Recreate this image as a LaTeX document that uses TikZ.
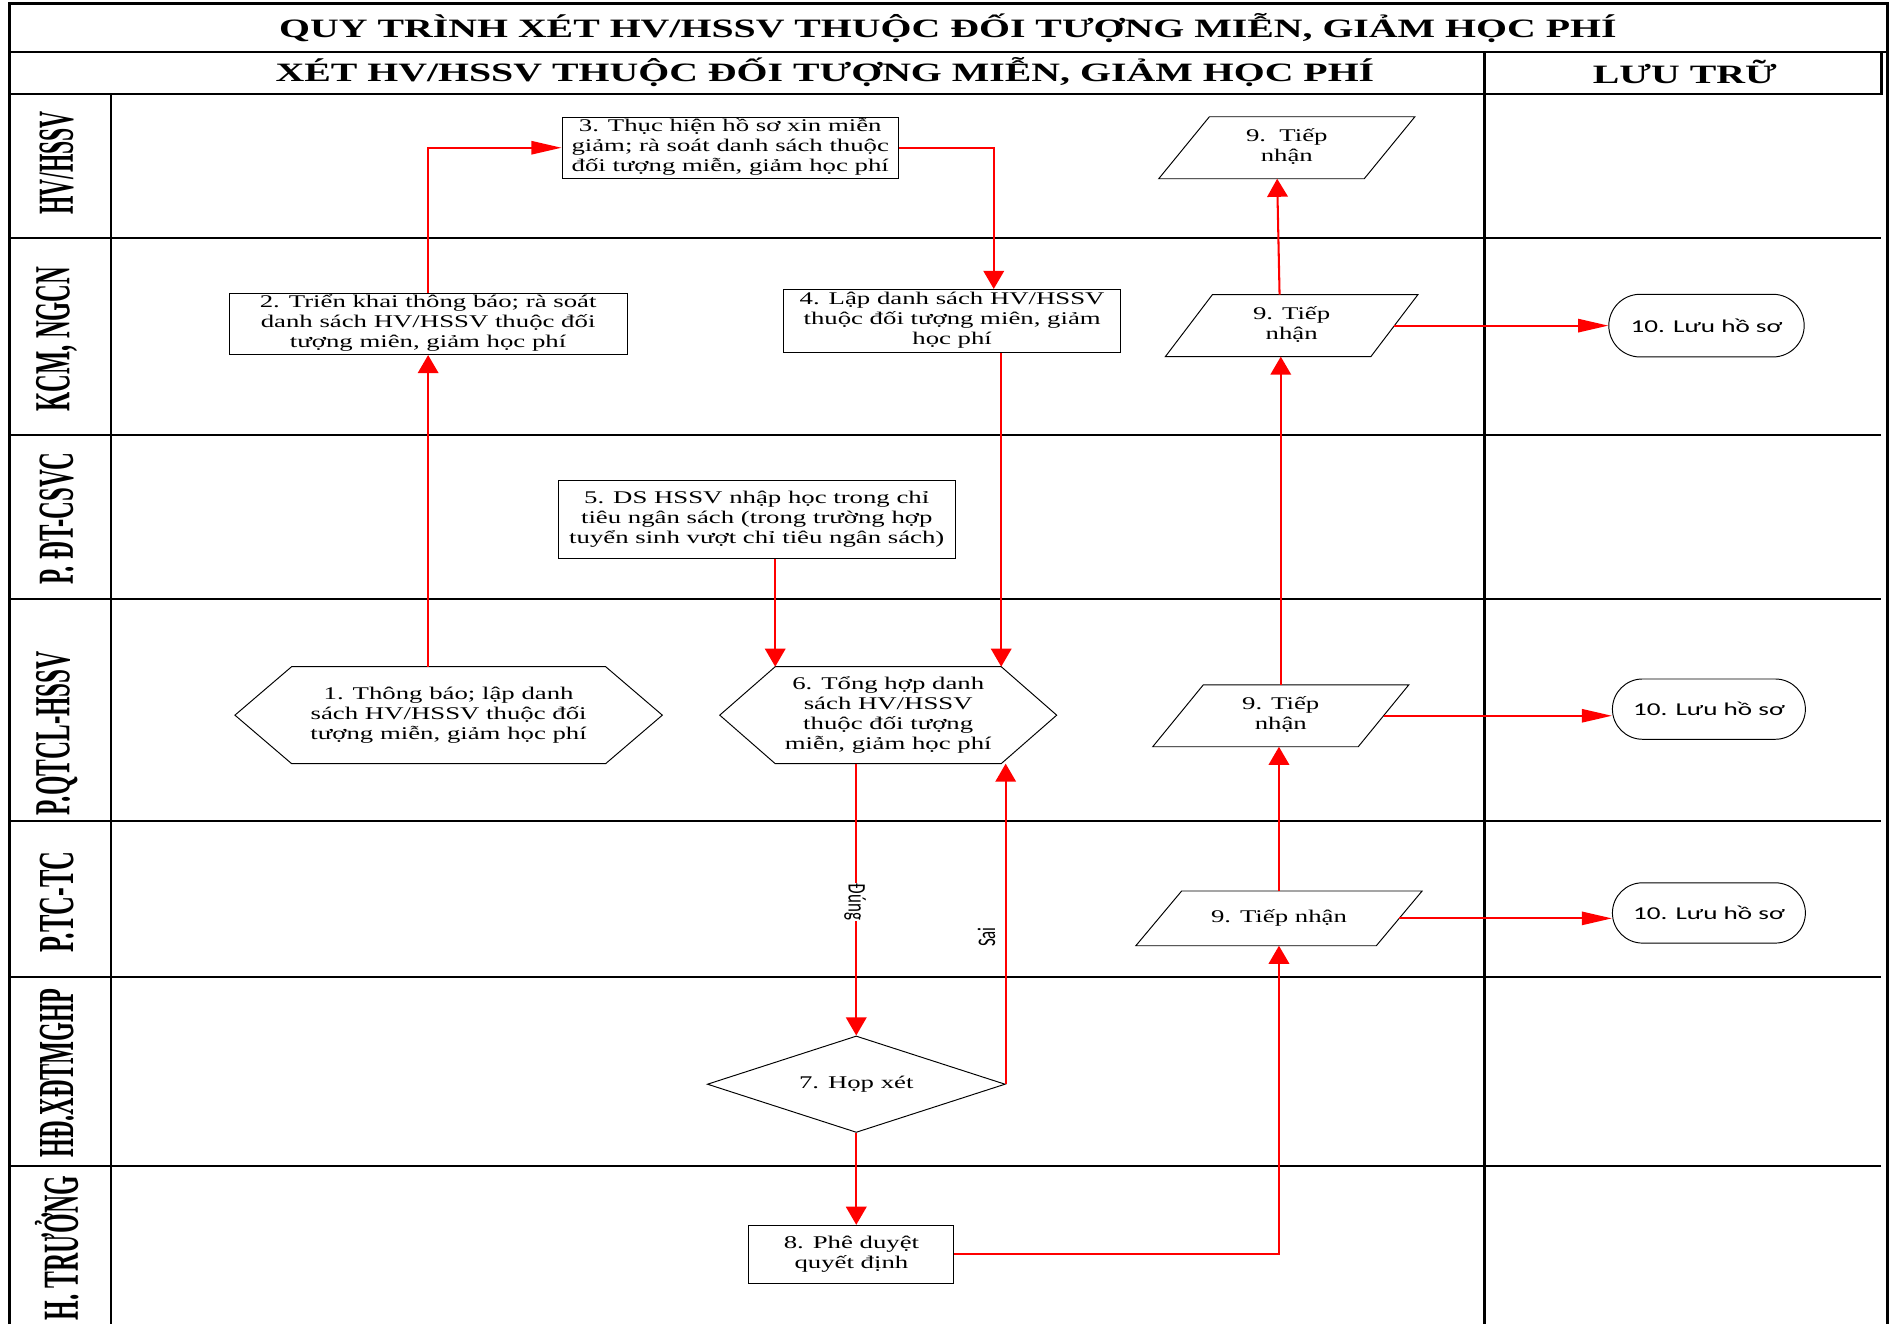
\documentclass[tikz,border=0pt]{standalone}
\usepackage{fontspec}
\setmainfont{Liberation Serif}
\newfontfamily\calib{Carlito}
\usetikzlibrary{arrows.meta,shapes.misc,shapes.geometric}
\newcommand\hs[1]{\scalebox{1.5}[1]{#1}}
\newcommand\ml[1]{\scalebox{1.5}[1]{\begin{tabular}{@{}c@{}}#1\end{tabular}}}
\newcommand\bodyfs{\fontsize{14.8}{16.6}\selectfont}
\newcommand\headfs{\fontsize{22}{24}\selectfont\bfseries}
\newcommand\lanetxt[2]{\resizebox{#1pt}{1.9\height}{#2}}
\newcommand\drawhex[2]{\draw[shapeline] ([xshift=#2]#1.north west) -- ([xshift=-#2]#1.north east) -- (#1.east) -- ([xshift=-#2]#1.south east) -- ([xshift=#2]#1.south west) -- (#1.west) -- cycle;}
\newcommand\drawpara[2]{\draw[shapeline] ([xshift=#2]#1.north west) -- (#1.north east) -- ([xshift=-#2]#1.south east) -- (#1.south west) -- cycle;}
\tikzset{
  frame/.style={line width=2pt},
  laneline/.style={line width=1.6pt},
  shapeline/.style={line width=0.8pt},
  box/.style={draw, line width=0.8pt, inner sep=0pt, font=\bodyfs},
  ghost/.style={inner sep=0pt, font=\bodyfs},
  stadium/.style={rounded rectangle, draw, line width=0.8pt, inner sep=0pt, font=\calib\fontsize{15}{17}\selectfont},
  headtext/.style={inner sep=0pt, font=\headfs},
  lanelabel/.style={inner sep=0pt, rotate=90, font=\headfs},
  flowlabel/.style={inner sep=1pt, font=\calib\fontsize{14}{16}\selectfont},
  flow/.style={draw=red, line width=1.7pt},
  harrow/.style={flow, -{Triangle[length=25pt,width=11pt]}},
  varrow/.style={flow, -{Triangle[length=15pt,width=17pt]}},
}
\begin{document}
\begin{tikzpicture}[x=1pt,y=-1pt]
\useasboundingbox (0,0) rectangle (1568,1098);
\fill[white] (0,0) rectangle (1568,1098);
% frame
\draw[frame] (8,1098) -- (8,3) -- (1565,3) -- (1565,1098);
\draw[frame] (8,43) -- (1565,43);
\draw[frame] (8,78) -- (1560,78) -- (1560,43);
\draw[frame] (1231,43) -- (1231,1098);
\draw[frame] (92,78) -- (92,1098);
\foreach \yy in {197,361,497,681,810,967} \draw[laneline] (8,\yy) -- (1560,\yy);
% headings
\node[headtext] (title) at (786,23) {\hs{QUY TRÌNH XÉT HV/HSSV THUỘC ĐỐI TƯỢNG MIỄN, GIẢM HỌC PHÍ}};
\node[headtext] (hdr) at (684,60) {\hs{XÉT HV/HSSV THUỘC ĐỐI TƯỢNG MIỄN, GIẢM HỌC PHÍ}};
\node[headtext] (store) at (1397,60) {\hs{LƯU TRỮ}};
% lane labels
\node[lanelabel] (l1) at (47,135) {\lanetxt{86}{HV/HSSV}};
\node[lanelabel] (l2) at (47,281) {\lanetxt{120}{KCM, NGCN}};
\node[lanelabel] (l3) at (47,430) {\lanetxt{110}{P. ĐT-CSVC}};
\node[lanelabel] (l4) at (47,608) {\lanetxt{136}{P.QTCL-HSSV}};
\node[lanelabel] (l5) at (47,748) {\lanetxt{84}{P.TC-TC}};
\node[lanelabel] (l6) at (47,890) {\lanetxt{140}{HĐ.XĐTMGHP}};
\node[lanelabel] (l7) at (47,1035) {\lanetxt{120}{H. TRƯỞNG}};
% process shapes
\node[box, minimum width=330pt, minimum height=51pt] (b2) at (355,268.5) {\ml{2. Triển khai thông báo; rà soát\\danh sách HV/HSSV thuộc đối\\tượng miên, giảm học phí}};
\node[box, minimum width=279pt, minimum height=51pt] (b3) at (605.5,122.5) {\ml{3. Thục hiện hồ sơ xin miễn\\giảm; rà soát danh sách thuộc\\đối tượng miễn, giảm học phí}};
\node[box, minimum width=279pt, minimum height=52pt] (b4) at (789.5,266) {\ml{4. Lập danh sách HV/HSSV\\thuộc đối tượng miên, giảm\\học phí}};
\node[box, minimum width=329pt, minimum height=65pt] (b5) at (627.5,430.5) {\ml{5. DS HSSV nhập học trong chỉ\\tiêu ngân sách (trong trường hợp\\tuyển sinh vượt chỉ tiêu ngân sách)}};
\node[ghost, minimum width=354pt, minimum height=80pt] (h1) at (372,593) {\ml{1. Thông báo; lập danh\\sách HV/HSSV thuộc đối\\tượng miễn, giảm học phí}};
\drawhex{h1}{47pt}
\node[ghost, minimum width=279pt, minimum height=80pt] (h6) at (736.5,593) {\ml{6. Tổng hợp danh\\sách HV/HSSV\\thuộc đối tượng\\miễn, giảm học phí}};
\drawhex{h6}{46pt}
\node[diamond, draw, line width=0.8pt, inner sep=0pt, shape aspect=3, minimum width=247pt, minimum height=80pt, font=\bodyfs] (d7) at (710,899) {\hs{7. Họp xét}};
\node[box, minimum width=170pt, minimum height=48pt] (b8) at (706,1040) {\ml{8. Phê duyệt\\quyết định}};
\node[ghost, minimum width=212pt, minimum height=51pt] (p9top) at (1067,122.5) {\ml{9.\ \ Tiếp\\nhận}};
\drawpara{p9top}{42pt}
\node[ghost, minimum width=209pt, minimum height=51pt] (p9a) at (1071,270) {\ml{9. Tiếp\\nhận}};
\drawpara{p9a}{39pt}
\node[ghost, minimum width=212pt, minimum height=51pt] (p9b) at (1062,593.5) {\ml{9. Tiếp\\nhận}};
\drawpara{p9b}{42pt}
\node[ghost, minimum width=237pt, minimum height=45pt] (p9c) at (1060.5,761.5) {\hs{9. Tiếp nhận}};
\drawpara{p9c}{38pt}
\node[stadium, minimum width=162pt, minimum height=52pt] (s10a) at (1415,270) {\hs{10. Lưu hồ sơ}};
\node[stadium, minimum width=160pt, minimum height=50pt] (s10b) at (1417,588) {\hs{10. Lưu hồ sơ}};
\node[stadium, minimum width=160pt, minimum height=50pt] (s10c) at (1417,757) {\hs{10. Lưu hồ sơ}};
% connectors
\coordinate (b4in) at ([xshift=34.5pt]b4.north);
\coordinate (h6tl) at ([xshift=46pt]h6.north west);
\coordinate (h6tr) at ([xshift=-46pt]h6.north east);
\coordinate (h6br) at ([xshift=-46pt]h6.south east);
\coordinate (p9aR) at ([xshift=-19.5pt]p9a.east);
\coordinate (p9bR) at ([xshift=-21pt]p9b.east);
\coordinate (p9cR) at ([xshift=-19pt]p9c.east);
\draw[varrow] (h1.north -| b2.south) -- (b2.south);
\draw[harrow] (b2.north) |- (b3.west);
\draw[varrow] (b3.east) -| (b4in);
\draw[varrow] (b4.south -| h6tr) -- (h6tr);
\draw[varrow] (b5.south -| h6tl) -- (h6tl);
\draw[varrow] (h6.south -| d7.north) -- (d7.north);
\node[flowlabel, fill=white, rotate=-90] (dung) at (709,748) {\scalebox{1}[1.5]{Đúng}};
\draw[varrow] (d7.east) -- (d7.east |- h6br);
\node[flowlabel, rotate=90] (sai) at (818,777) {\scalebox{1}[1.5]{Sai}};
\draw[varrow] (d7.south) -- (d7.south |- b8.north);
\draw[varrow] (b8.east) -| (p9c.south);
\draw[varrow] (p9c.north) -- (p9c.north |- p9b.south);
\draw[varrow] (p9b.north) -- (p9b.north |- p9a.south);
\draw[varrow] ([xshift=-10pt]p9a.north) -- ([xshift=-8pt]p9top.south);
\draw[harrow] (p9aR) -- (s10a.west);
\draw[harrow] (p9bR) -- (p9bR -| s10b.west);
\draw[harrow] (p9cR) -- (p9cR -| s10c.west);
\end{tikzpicture}
\end{document}
